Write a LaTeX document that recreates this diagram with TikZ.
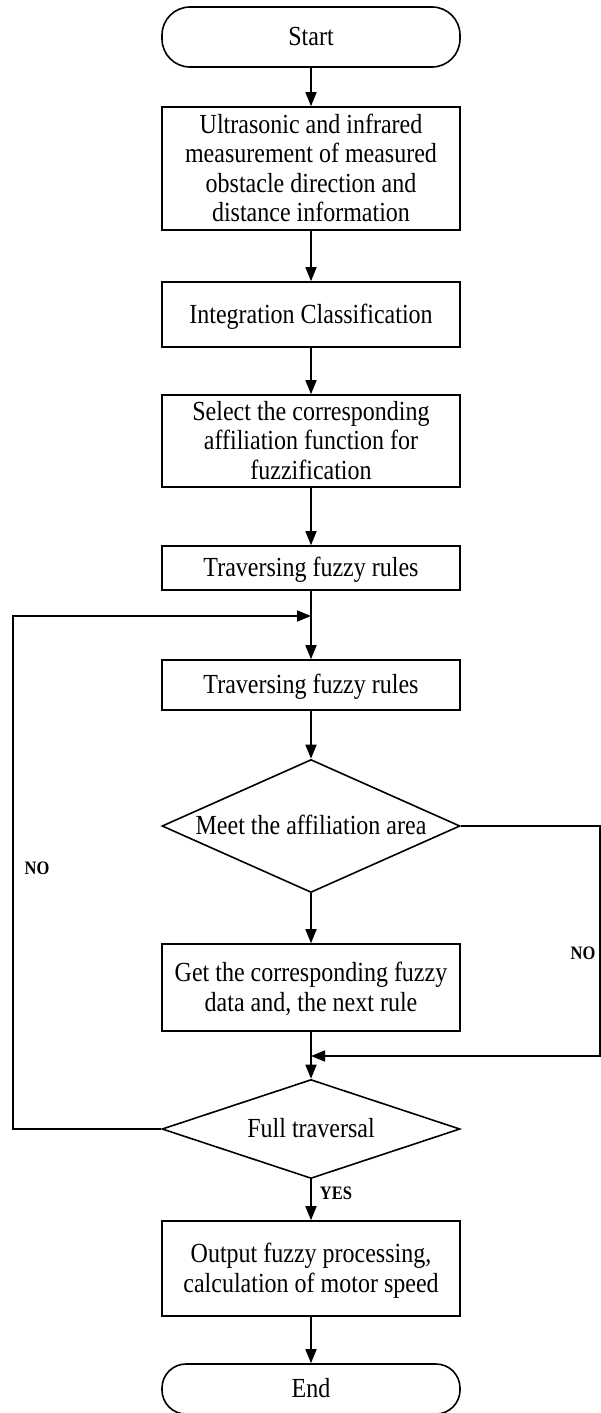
\documentclass[tikz,border=0pt]{standalone}
\usepackage{fontspec}
\usepackage{graphicx}
\setmainfont{Liberation Serif}
\usetikzlibrary{shapes.geometric,arrows.meta}
\newcommand\vtall[1]{\raisebox{-3pt}[\height][\depth]{\scalebox{1}[1.15]{\begin{tabular}{@{}c@{}}#1\end{tabular}}}}
\tikzset{
  box/.style={draw, line width=1.6pt, minimum width=298pt, inner sep=0pt, align=center,
    font=\fontsize{24}{25.5}\selectfont},
  term/.style={box, rounded corners=28pt},
  dec/.style={draw, line width=1.6pt, shape=diamond, minimum width=298pt, inner sep=0pt,
    font=\fontsize{24}{25.5}\selectfont},
  arr/.style={line width=1.6pt, -{Triangle[length=14pt,width=11pt]}},
  lab/.style={font=\fontsize{16.5}{18}\selectfont\bfseries, inner sep=0pt}
}
\begin{document}
\begin{tikzpicture}[x=1pt,y=-1pt]
\useasboundingbox (0,0) rectangle (601,1413);
\node[term, minimum height=60pt] (start) at (311,37) {\vtall{Start}};
\node[box, minimum height=123pt] (b1) at (311,168.5) {\vtall{Ultrasonic and infrared\\measurement of measured\\obstacle direction and\\distance information}};
\node[box, minimum height=65pt] (b2) at (311,314.5) {\vtall{Integration Classification}};
\node[box, minimum height=92pt] (b3) at (311,441) {\vtall{Select the corresponding\\affiliation function for\\fuzzification}};
\node[box, minimum height=44pt] (b4) at (311,568) {\vtall{Traversing fuzzy rules}};
\node[box, minimum height=50pt] (b5) at (311,685) {\vtall{Traversing fuzzy rules}};
\node[dec, aspect=2.24, minimum height=133pt] (d1) at (311,826) {\vtall{Meet the affiliation area}};
\node[box, minimum height=87pt] (b6) at (311,987.5) {\vtall{Get the corresponding fuzzy\\data and, the next rule}};
\node[dec, aspect=3, minimum height=99pt] (d2) at (311,1129) {\vtall{Full traversal}};
\node[box, minimum height=95pt] (b7) at (311,1268.5) {\vtall{Output fuzzy processing,\\calculation of motor speed}};
\node[term, minimum height=50pt, rounded corners=24pt] (end) at (311,1389) {\vtall{End}};

\coordinate (jl) at (311,616);
\coordinate (jr) at (311,1056);
\coordinate (lc1) at (13,1129);
\coordinate (lc2) at (13,616);
\coordinate (rc1) at (600,826);
\coordinate (rc2) at (600,1056);

\draw[arr] (start) -- (b1);
\draw[arr] (b1) -- (b2);
\draw[arr] (b2) -- (b3);
\draw[arr] (b3) -- (b4);
\draw[arr] (b4) -- (b5);
\draw[arr] (b5) -- (d1);
\draw[arr] (d1) -- (b6);
\draw[arr] (b6) -- (d2);
\draw[arr] (d2) -- (b7);
\draw[arr] (b7) -- (end);
\draw[arr] (d2.west) -- (lc1) -- (lc2) -- (jl);
\draw[arr] (d1.east) -- (rc1) -- (rc2) -- (jr);

\node[lab] (no1) at (37,868) {\scalebox{1}[1.15]{NO}};
\node[lab] (no2) at (583,953) {\scalebox{1}[1.15]{NO}};
\node[lab] (yes) at (336,1193) {\scalebox{1}[1.15]{YES}};
\end{tikzpicture}
\end{document}
